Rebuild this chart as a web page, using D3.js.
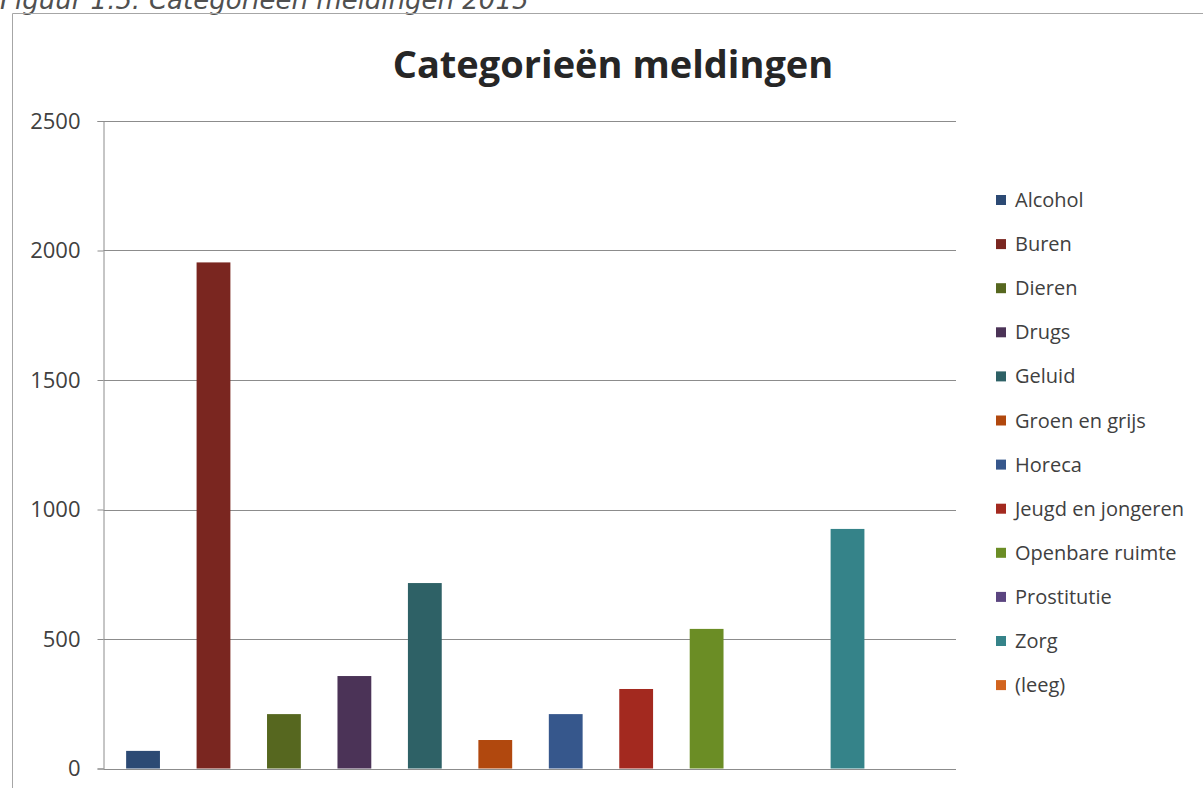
<!DOCTYPE html>
<meta charset="utf-8">
<style>
    body { margin: 0; background: #fff; }
    .tick text { font: 22px "Open Sans", sans-serif; fill: #404040; }
</style>
<body>
<script src="https://d3js.org/d3.v7.min.js"></script>
<script>
    // categories, values and colours
    const categories = ["Alcohol", "Buren", "Dieren", "Drugs", "Geluid", "Groen en grijs",
        "Horeca", "Jeugd en jongeren", "Openbare ruimte", "Prostitutie", "Zorg", "(leeg)"];
    const values = [68, 1954, 210, 357, 716, 110, 210, 307, 539, 0, 925, 0];
    const colors = ["#2c4a74", "#7a2620", "#56671f", "#4b3357", "#2e6166", "#b1480e",
        "#36578c", "#a3291f", "#6b8d25", "#5b4580", "#358389", "#d2641f"];
    const yTicks = [0, 500, 1000, 1500, 2000, 2500];

    let width = 1203, height = 788;
    let svg = d3.select("body").append("svg")
        .attr("width", width)
        .attr("height", height);

    // caption, cut off by the top edge like in the scan
    svg.append("text")
        .attr("x", 0).attr("y", 9)
        .style("font", "italic 26px 'DejaVu Sans', sans-serif")
        .style("fill", "#505050")
        .text("Figuur 1.5: Categorieën meldingen 2015");

    // chart frame
    svg.append("path")
        .attr("d", "M12.5," + height + "V13.5H" + width)
        .attr("fill", "none")
        .attr("stroke", "#a6a6a6");

    // title
    svg.append("text")
        .attr("x", 613).attr("y", 78)
        .attr("text-anchor", "middle")
        .style("font", "bold 38px 'Open Sans', sans-serif")
        .style("fill", "#262626")
        .text("Categorieën meldingen");

    let x = d3.scaleBand()
        .domain(categories)
        .range([105, 956])
        .paddingInner(0.52)
        .paddingOuter(0.3);

    let y = d3.scaleLinear()
        .domain([0, 2500])
        .range([768.5, 121]);

    // y axis
    let yAxis = svg.append("g")
        .attr("transform", "translate(103.5,0)")
        .call(d3.axisLeft(y).tickValues(yTicks).tickFormat(d3.format("d")).tickSize(6).tickPadding(17));
    yAxis.select(".domain").attr("stroke", "#8c8c8c");
    yAxis.selectAll(".tick line").attr("stroke", "#8c8c8c");

    // gridlines
    svg.append("g")
        .selectAll("line")
        .data(yTicks)
        .join("line")
            .attr("x1", 103.5)
            .attr("x2", 956)
            .attr("y1", d => Math.round(y(d)) + 0.5)
            .attr("y2", d => Math.round(y(d)) + 0.5)
            .attr("stroke", "#8c8c8c");

    // bars
    svg.append("g")
        .selectAll("rect")
        .data(categories)
        .join("rect")
            .attr("x", d => x(d))
            .attr("width", x.bandwidth())
            .attr("y", (d, i) => y(values[i]))
            .attr("height", (d, i) => y(0) - y(values[i]))
            .attr("fill", (d, i) => colors[i]);

    // legend
    let legend = svg.append("g")
        .selectAll("g")
        .data(categories)
        .join("g")
            .attr("transform", (d, i) => "translate(996," + (200 + i * 44.1) + ")");
    legend.append("rect")
        .attr("x", 0).attr("y", -5)
        .attr("width", 10).attr("height", 10)
        .attr("fill", (d, i) => colors[i]);
    legend.append("text")
        .attr("x", 19).attr("dy", "0.35em")
        .style("font", "20px 'Open Sans', sans-serif")
        .style("fill", "#404040")
        .text(d => d);
</script>
</body>
